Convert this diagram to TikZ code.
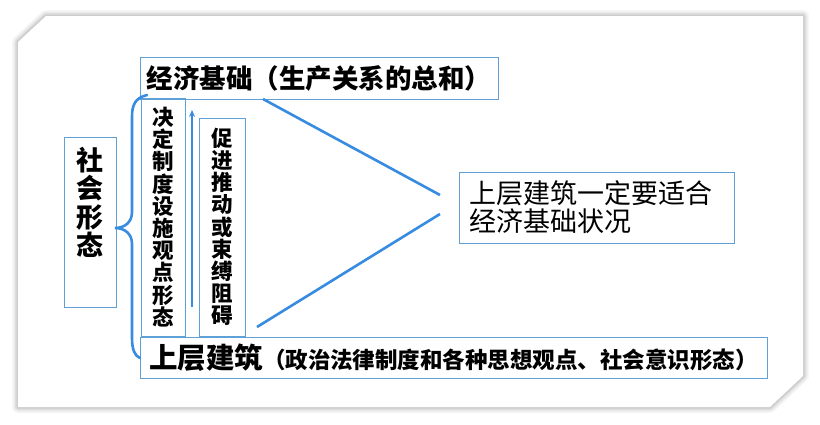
\documentclass[tikz,border=0pt]{standalone}
\usepackage{fontspec}
\setmainfont{Noto Sans CJK SC}
\usetikzlibrary{positioning,arrows.meta}
\definecolor{boxblue}{RGB}{95,160,215}
\definecolor{lineblue}{RGB}{55,140,225}

\tikzset{
  box/.style={draw=boxblue, line width=0.9pt, inner sep=0pt},
  coltext/.style={align=center, inner sep=0pt, font=\bfseries\fontsize{21.5}{22.2}\selectfont},
  blueline/.style={draw=lineblue, line width=2.6pt},
}

\begin{document}
\begin{tikzpicture}[x=1pt,y=-1pt]
\useasboundingbox (0,0) rectangle (820,424);

%%%%%%%%%%%%%%%%%%Draw The Paper With Its Shadow%%%%%%%%%%%%%%%
\foreach \w/\op in {12/0.035,9/0.045,6/0.06,3/0.08}{
  \draw[black, opacity=\op, line width=\w pt, line join=round]
    (18,42) -- (46,16) -- (803,16) -- (803,376) -- (770,407) -- (18,407) -- cycle;
}
\fill[white] (18,42) -- (46,16) -- (803,16) -- (803,376) -- (770,407) -- (18,407) -- cycle;

%%%%%%%%%%%%%%%%%%Draw The Boxes%%%%%%%%%%%%%%%
\node[box, minimum width=358, minimum height=42] (base) at (319,78)
  {\bfseries\fontsize{26.5}{30}\selectfont 经济基础（生产关系的总和）};

\node[box, minimum width=627, minimum height=41] (super) at (453.5,357.5)
  {\bfseries{\fontsize{28.5}{30}\selectfont 上层建筑}{\fontsize{22.5}{30}\selectfont （政治法律制度和各种思想观点、社会意识形态）}};

\node[box, minimum width=52, minimum height=170] (society) at (90,222) {};
\node[coltext, font=\bfseries\fontsize{27}{28.5}\selectfont, below=10pt of society.north] (societylabel)
  {社\\会\\形\\态};

\node[box, coltext, minimum width=44, minimum height=238] (decide) at (163,217)
  {决\\定\\制\\度\\设\\施\\观\\点\\形\\态};
\node[box, coltext, minimum width=46, minimum height=218] (promote) at (222,227)
  {促\\进\\推\\动\\或\\束\\缚\\阻\\碍};

\node[box, minimum width=275, minimum height=71, text width=255, align=left, inner xsep=10pt,
  font=\fontsize{27}{28}\selectfont] (adapt) at (596.5,207.5)
  {上层建筑一定要适合\\经济基础状况};

%%%%%%%%%%%%%%%%%%Draw The Brace%%%%%%%%%%%%%%%
\draw[blueline, line cap=round] (147,95) .. controls (135,98) and (132,105) .. (132,117)
  -- (132,212) .. controls (132,222) and (125,228) .. (115,228)
  .. controls (125,228) and (132,234) .. (132,244)
  -- (132,338) .. controls (132,350) and (135,356) .. (140,358);

%%%%%%%%%%%%%%%%%%Draw The Arrow And The Lines%%%%%%%%%%%%%%%
\coordinate (arrowtail) at (192,307);
\coordinate (arrowtip) at (192,110);
\draw[draw=lineblue, line width=2.4pt, -{Stealth[length=7pt,width=6pt]}] (arrowtail) -- (arrowtip);

\coordinate (upstart) at (263,99);
\coordinate (upend) at (440,195);
\coordinate (lowstart) at (257,327);
\coordinate (lowend) at (440,214);
\draw[blueline] (upstart) -- (upend);
\draw[blueline] (lowstart) -- (lowend);

\end{tikzpicture}
\end{document}
